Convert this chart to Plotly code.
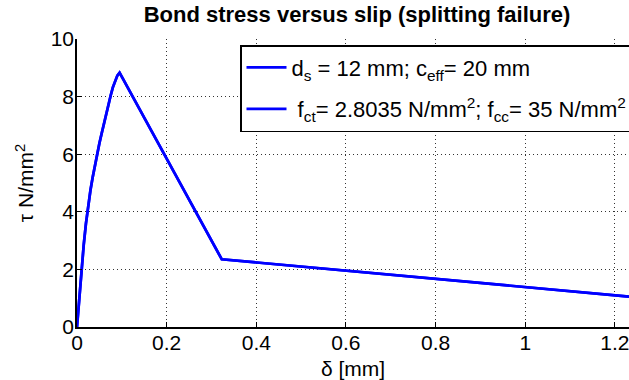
import plotly.graph_objects as go

# Bond stress-slip curve for splitting failure (slip in mm, stress in N/mm^2)
slip_mm = [0.0, 0.005, 0.01, 0.015, 0.02, 0.025, 0.03, 0.035, 0.04, 0.045, 0.05,
           0.055, 0.06, 0.065, 0.07, 0.075, 0.08, 0.085, 0.09, 0.095, 0.323, 1.25]
tau_nmm2 = [0.0, 1.0, 1.95, 2.85, 3.6, 4.25, 4.75, 5.2, 5.62, 6.02, 6.38,
            6.72, 7.07, 7.4, 7.72, 8.03, 8.32, 8.56, 8.73, 8.83, 2.35, 1.03]

x_ticks = [0, 0.2, 0.4, 0.6, 0.8, 1.0, 1.2]
y_ticks = [0, 2, 4, 6, 8, 10]

legend_geometry = "d<sub>s</sub> = 12 mm; c<sub>eff</sub>= 20 mm"
legend_material = "\u00a0f<sub>ct</sub>= 2.8035 N/mm<sup>2</sup>; f<sub>cc</sub>= 35 N/mm<sup>2</sup>"

FONT = "Liberation Sans, Arial, Helvetica, sans-serif"
BLUE = "#0000ff"

W, H = 629, 380
ML, MT, MB, MR = 77, 39, 53, 0
x_max = 1.2315

fig = go.Figure()
fig.add_trace(go.Scatter(
    x=slip_mm, y=tau_nmm2, mode="lines", name=legend_geometry,
    line=dict(color=BLUE, width=2.7), legendgroup="a",
))
fig.add_trace(go.Scatter(
    x=slip_mm, y=tau_nmm2, mode="lines", name=legend_material,
    line=dict(color=BLUE, width=2.7), legendgroup="b",
))

# dotted MATLAB-style grid
grid = dict(showgrid=True, gridcolor="#333333", gridwidth=1, griddash="1px,3px")

fig.update_layout(
    width=W, height=H,
    margin=dict(l=ML, r=MR, t=MT, b=MB, pad=0, autoexpand=False),
    paper_bgcolor="white", plot_bgcolor="white",
    font=dict(family=FONT, size=21, color="black"),
    title=dict(
        text="<b>Bond stress versus slip (splitting failure)</b>",
        x=357 / W, xanchor="center", xref="container",
        y=1 - 14 / H, yanchor="middle", yref="container",
        font=dict(family=FONT, size=22, color="black"),
    ),
    xaxis=dict(
        range=[0, x_max], tickvals=x_ticks, ticks="inside", ticklen=5,
        tickcolor="black", tickwidth=1, showline=True, linecolor="black",
        linewidth=1.5, zeroline=False, automargin=False,
        tickfont=dict(size=21), ticklabeloverflow="allow", ticklabelstandoff=-4,
        title=dict(text="\u03b4 [mm]", standoff=16, font=dict(size=21)),
        **grid,
    ),
    xaxis2=dict(
        range=[0, x_max], overlaying="x", side="top", tickvals=x_ticks,
        ticks="inside", ticklen=5, tickcolor="black", showticklabels=False,
        showline=True, linecolor="black", linewidth=1.5, showgrid=False,
        zeroline=False, automargin=False,
    ),
    yaxis=dict(
        range=[0, 10], tickvals=y_ticks, ticks="inside", ticklen=5,
        tickcolor="black", tickwidth=1, showline=True, linecolor="black",
        linewidth=1.5, zeroline=False, automargin=False,
        tickfont=dict(size=21), ticklabelstandoff=-3,
        title=dict(text="\u03c4 N/mm<sup>2</sup>", standoff=11, font=dict(size=21)),
        **grid,
    ),
    legend=dict(
        x=(240 - ML) / (W - ML - MR), xanchor="left",
        y=(H - MB - 45) / (H - MT - MB), yanchor="top",
        bgcolor="white", bordercolor="black", borderwidth=1.5,
        font=dict(family=FONT, size=22, color="black"),
        itemwidth=40, tracegroupgap=10,
    ),
    showlegend=True,
)

fig.write_html("out.html")
